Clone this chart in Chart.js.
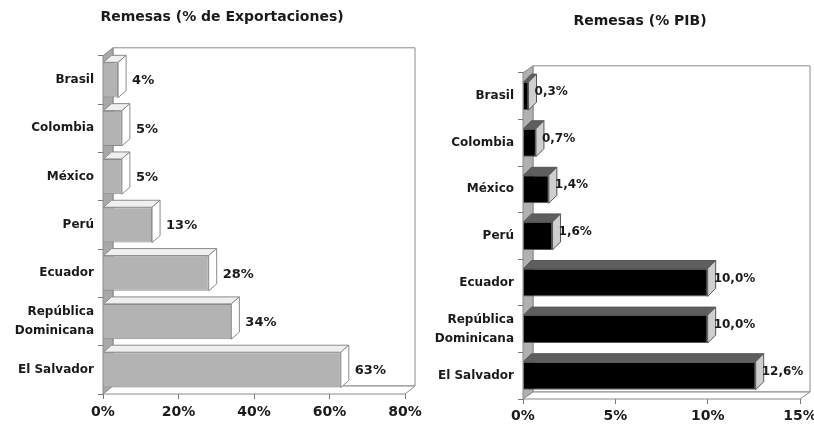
<!DOCTYPE html>
<html>
<head>
<meta charset="utf-8">
<script src="https://cdn.jsdelivr.net/npm/chart.js@4/dist/chart.umd.min.js"></script>
<style>
body{margin:0;width:814px;height:425px;overflow:hidden;background:#fff;position:relative}
.caja{position:absolute;top:0;height:425px}
#c1{left:0;width:444px}
#c2{left:430px;width:420px}
</style>
</head>
<body>
<div class="caja" id="c1"><canvas id="g1"></canvas></div>
<div class="caja" id="c2"><canvas id="g2"></canvas></div>
<script>
// datos
var paises = ['Brasil', 'Colombia', 'México', 'Perú', 'Ecuador', ['República', 'Dominicana'], 'El Salvador']
var remesasExport = [4, 5, 5, 13, 28, 34, 63]
var remesasPIB = [0.3, 0.7, 1.4, 1.6, 10.0, 10.0, 12.6]
var titulo1 = 'Remesas (% de Exportaciones)'
var titulo2 = 'Remesas (% PIB)'

var fuente = 'DejaVu Sans'

function poligono(ctx, pts, relleno, linea){
    ctx.beginPath()
    ctx.moveTo(pts[0][0], pts[0][1])
    for (var i = 1; i < pts.length; i++) ctx.lineTo(pts[i][0], pts[i][1])
    ctx.closePath()
    ctx.fillStyle = relleno
    ctx.fill()
    ctx.strokeStyle = linea
    ctx.stroke()
}

// paredes y caras en falso 3D, como el grafico de Excel
var caja3d = {
    id: 'caja3d',
    beforeDatasetsDraw: function(chart, args, o){
        var a = chart.chartArea, ctx = chart.ctx
        var dx = o.dx, dy = o.dy
        ctx.save()
        ctx.lineWidth = 1
        // pared del fondo
        poligono(ctx, [[a.left+dx, a.top-dy], [a.right+dx, a.top-dy], [a.right+dx, a.bottom-dy], [a.left+dx, a.bottom-dy]], '#fff', o.lineaPared)
        // pared lateral
        poligono(ctx, [[a.left, a.top], [a.left+dx, a.top-dy], [a.left+dx, a.bottom-dy], [a.left, a.bottom]], o.pared, o.lineaPared)
        // piso
        poligono(ctx, [[a.left, a.bottom], [a.left+dx, a.bottom-dy], [a.right+dx, a.bottom-dy], [a.right, a.bottom]], '#fff', o.lineaPared)
        ctx.restore()
    },
    afterDatasetsDraw: function(chart, args, o){
        var ctx = chart.ctx
        var meta = chart.getDatasetMeta(0)
        var valores = chart.data.datasets[0].data
        ctx.save()
        ctx.lineWidth = 1
        meta.data.forEach(function(bar, i){
            var p = bar.getProps(['x', 'y', 'base', 'height'], true)
            var arriba = p.y - p.height/2, abajo = p.y + p.height/2
            poligono(ctx, [[p.base, arriba], [p.base+o.bdx, arriba-o.bdy], [p.x+o.bdx, arriba-o.bdy], [p.x, arriba]], o.tapa, o.linea)
            poligono(ctx, [[p.x, arriba], [p.x+o.bdx, arriba-o.bdy], [p.x+o.bdx, abajo-o.bdy], [p.x, abajo]], o.lado, o.linea)
            ctx.fillStyle = '#1a1a1a'
            ctx.font = 'bold ' + o.tamEtiqueta + 'px "' + fuente + '"'
            ctx.textBaseline = 'middle'
            ctx.textAlign = 'left'
            ctx.fillText(o.formato(valores[i]), p.x + o.sep, p.y + o.subir)
        })
        ctx.restore()
    }
}

function crear(id, datos, titulo, conf){
    var ctx = document.getElementById(id).getContext('2d')
    return new Chart(ctx, {
        type: 'bar',
        data: {
            labels: paises,
            datasets: [{
                data: datos,
                backgroundColor: conf.frente,
                borderColor: conf.linea,
                borderWidth: 1,
                barPercentage: conf.grosor,
                categoryPercentage: 1
            }]
        },
        plugins: [caja3d],
        options: {
            indexAxis: 'y',
            responsive: true,
            maintainAspectRatio: false,
            animation: false,
            layout: { padding: 0 },
            plugins: {
                legend: { display: false },
                tooltip: { enabled: false },
                title: {
                    display: true,
                    text: titulo,
                    color: '#1a1a1a',
                    font: { family: fuente, size: 14, weight: 'bold' },
                    padding: { top: conf.tituloArriba, bottom: conf.tituloAbajo }
                },
                caja3d: conf
            },
            scales: {
                y: {
                    grid: { drawOnChartArea: false, tickLength: 5, color: '#777', offset: true },
                    border: { display: false },
                    ticks: { color: '#1a1a1a', padding: 4, font: { family: fuente, size: 12, weight: 'bold', lineHeight: 1.6 } },
                    afterFit: function(s){ s.width = conf.anchoY; s.paddingTop = 0; s.paddingBottom = 0 }
                },
                x: {
                    min: 0,
                    max: conf.max,
                    grid: { drawOnChartArea: false, tickLength: 5, color: '#777' },
                    border: { display: false },
                    ticks: {
                        stepSize: conf.paso,
                        color: '#1a1a1a',
                        padding: conf.padX,
                        font: { family: fuente, size: 14, weight: 'bold' },
                        callback: function(v){ return v + '%' }
                    },
                    // el espacio a la derecha va en el eje, asi el titulo queda centrado en el lienzo
                    afterFit: function(s){ s.height = conf.altoX; s.paddingLeft = 0; s.paddingRight = conf.derecha }
                }
            }
        }
    })
}

crear('g1', remesasExport, titulo1, {
    max: 80, paso: 20, anchoY: 103, derecha: 39, altoX: 31, padX: 5,
    tituloArriba: 9, tituloAbajo: 30,
    dx: 10, dy: 8, bdx: 8, bdy: 7, grosor: 0.73,
    frente: '#b3b3b3', tapa: '#efefef', lado: '#ffffff', linea: '#8a8a8a',
    pared: '#a8a8a8', lineaPared: '#8a8a8a',
    tamEtiqueta: 13, sep: 14, subir: 1,
    formato: function(v){ return v + '%' }
})

crear('g2', remesasPIB, titulo2, {
    max: 15, paso: 5, anchoY: 93, derecha: 50, altoX: 26, padX: 4,
    tituloArriba: 13, tituloAbajo: 43,
    dx: 10, dy: 7, bdx: 8, bdy: 8, grosor: 0.6,
    frente: '#000000', tapa: '#5e5e5e', lado: '#cfcfcf', linea: '#555555',
    pared: '#b0b0b0', lineaPared: '#8a8a8a',
    tamEtiqueta: 12, sep: 6, subir: -4,
    formato: function(v){ return v.toFixed(1).replace('.', ',') + '%' }
})
</script>
</body>
</html>
